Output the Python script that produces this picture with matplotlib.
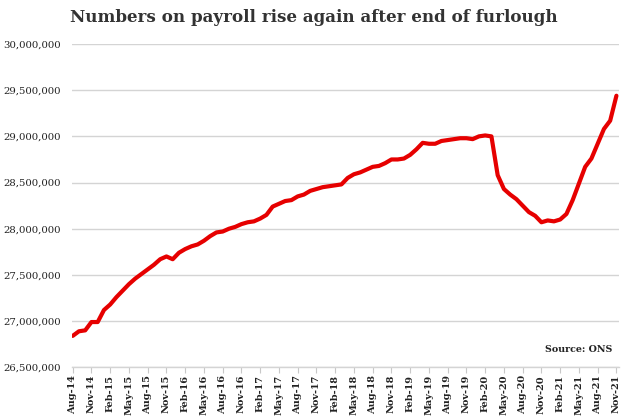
import matplotlib
matplotlib.use("Agg")
import matplotlib.pyplot as plt
import numpy as np

# ---- data ----
start_year, start_month = 2014, 8
values = [
    26.84, 26.89, 26.90, 26.99, 26.99, 27.12, 27.18, 27.26, 27.33, 27.40,
    27.46, 27.51, 27.56, 27.61, 27.67, 27.70, 27.67, 27.74, 27.78, 27.81,
    27.83, 27.87, 27.92, 27.96, 27.97, 28.00, 28.02, 28.05, 28.07, 28.08,
    28.11, 28.15, 28.24, 28.27, 28.30, 28.31, 28.35, 28.37, 28.41, 28.43,
    28.45, 28.46, 28.47, 28.48, 28.55, 28.59, 28.61, 28.64, 28.67, 28.68,
    28.71, 28.75, 28.75, 28.76, 28.80, 28.86, 28.93, 28.92, 28.92, 28.95,
    28.96, 28.97, 28.98, 28.98, 28.97, 29.00, 29.01, 29.00, 28.58, 28.43,
    28.37, 28.32, 28.25, 28.18, 28.14, 28.07, 28.09, 28.08, 28.10, 28.16,
    28.31, 28.49, 28.67, 28.76, 28.92, 29.08, 29.17, 29.44,
]
values = [v * 1e6 for v in values]
month_names = ["Jan", "Feb", "Mar", "Apr", "May", "Jun",
               "Jul", "Aug", "Sep", "Oct", "Nov", "Dec"]
months = []
for i in range(len(values)):
    mi = start_month - 1 + i
    y = start_year + mi // 12
    months.append(f"{month_names[mi % 12]}-{y % 100:02d}")
y_ticks = [26.5e6, 27e6, 27.5e6, 28e6, 28.5e6, 29e6, 29.5e6, 30e6]
title = "Numbers on payroll rise again after end of furlough"
source = "Source: ONS"

# ---- figure ----
fig = plt.figure(figsize=(6.34, 4.20), dpi=100)
fig.patch.set_facecolor("white")
ax = fig.add_axes([71.7 / 634, 1 - 367.3 / 420, (619.3 - 71.7) / 634, (367.3 - 44) / 420])
ax.set_facecolor("none")

x = np.arange(len(values))
ax.plot(x, values, color="#e60000", lw=3.0, solid_joinstyle="round",
        solid_capstyle="round", zorder=3)

ax.set_ylim(26.5e6, 30e6)
ax.set_xlim(-0.16, 87.46)
ax.set_yticks(y_ticks)
ax.set_yticklabels([f"{int(v):,}" for v in y_ticks],
                   fontfamily="DejaVu Serif", fontsize=7.3, color="#222222")
ax.grid(axis="y", color="#d4d4d4", lw=1.0, zorder=1)
ax.tick_params(axis="y", length=0, pad=8)

tick_pos = x[::3]
ax.set_xticks(tick_pos)
ax.set_xticklabels([months[i] for i in tick_pos], rotation=90,
                   fontfamily="DejaVu Serif", fontsize=7.0, fontweight="bold",
                   color="#222222")
ax.tick_params(axis="x", length=4, color="#c8c8c8", width=0.8, pad=1.5)

for s in ["top", "right", "left"]:
    ax.spines[s].set_visible(False)
ax.spines["bottom"].set_color("#d4d4d4")
ax.spines["bottom"].set_linewidth(1.0)

fig.text(70 / 634, 1 - 18 / 420, title, fontfamily="DejaVu Serif",
         fontweight="bold", fontsize=12.1, color="#333333", va="center", ha="left")
fig.text(612 / 634, 1 - 349 / 420, source, fontfamily="DejaVu Serif",
         fontsize=6.8, fontweight="bold", color="#222222", va="center", ha="right")

fig.savefig("out.png", dpi=100)
